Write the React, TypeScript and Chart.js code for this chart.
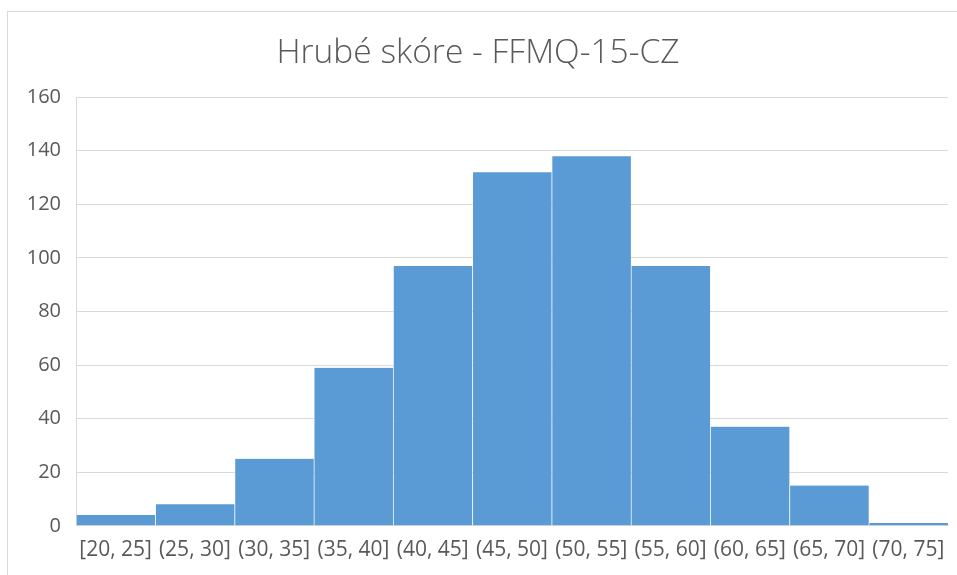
import React, { useEffect, useRef } from "react";
import { Chart, registerables } from "chart.js";

Chart.register(...registerables);

const TITLE = "Hrubé skóre - FFMQ-15-CZ";
const categories = ["[20, 25]", "(25, 30]", "(30, 35]", "(35, 40]", "(40, 45]", "(45, 50]", "(50, 55]", "(55, 60]", "(60, 65]", "(65, 70]", "(70, 75]"];
const counts = [4, 8, 25, 59, 97, 132, 138, 97, 37, 15, 1];
const yTicks = [0, 20, 40, 60, 80, 100, 120, 140, 160];

const TEXT = "#595959";
const GRID = "#d9d9d9";
const BAR = "#5b9bd5";

export default function App() {
  const ref = useRef<HTMLCanvasElement | null>(null);
  useEffect(() => {
    if (!ref.current) return;
    const chart = new Chart(ref.current, {
      type: "bar",
      data: {
        labels: categories,
        datasets: [
          {
            data: counts,
            backgroundColor: BAR,
            borderColor: "rgba(255,255,255,0.35)",
            borderWidth: { left: 1, right: 0, top: 0, bottom: 0 },
            categoryPercentage: 1,
            barPercentage: 1,
          },
        ],
      },
      options: {
        animation: false,
        responsive: false,
        maintainAspectRatio: false,
        layout: { padding: { left: 0, right: 9, top: 21, bottom: 0 } },
        plugins: {
          legend: { display: false },
          tooltip: { enabled: false },
          title: {
            display: true,
            text: TITLE,
            color: TEXT,
            font: { family: "'Open Sans', sans-serif", size: 33.5, weight: 300 },
            padding: { top: 0, bottom: 24 },
          },
        },
        scales: {
          x: {
            grid: { display: false, drawTicks: false },
            border: { display: true, color: GRID, width: 1 },
            ticks: {
              color: TEXT,
              font: { family: "'Open Sans', sans-serif", size: 21 },
              maxRotation: 0,
              autoSkip: false,
              padding: 12,
            },
          },
          y: {
            min: 0,
            max: 160,
            afterBuildTicks: (s: any) => {
              s.ticks = yTicks.map((v) => ({ value: v }));
            },
            afterFit: (s: any) => {
              s.width = 68;
            },
            grid: { color: GRID, lineWidth: 1, drawTicks: false },
            border: { display: true, color: GRID, width: 1 },
            ticks: {
              color: TEXT,
              font: { family: "'Open Sans', sans-serif", size: 20 },
              padding: 15,
            },
          },
        },
      },
    });
    return () => chart.destroy();
  }, []);

  return (
    <div
      style={{
        position: "absolute",
        left: 7,
        top: 11,
        width: 960,
        height: 570,
        borderLeft: `1px solid ${GRID}`,
        borderTop: `1px solid ${GRID}`,
        background: "#fff",
      }}
    >
      <canvas ref={ref} width={949} height={563} style={{ display: "block" }} />
    </div>
  );
}
